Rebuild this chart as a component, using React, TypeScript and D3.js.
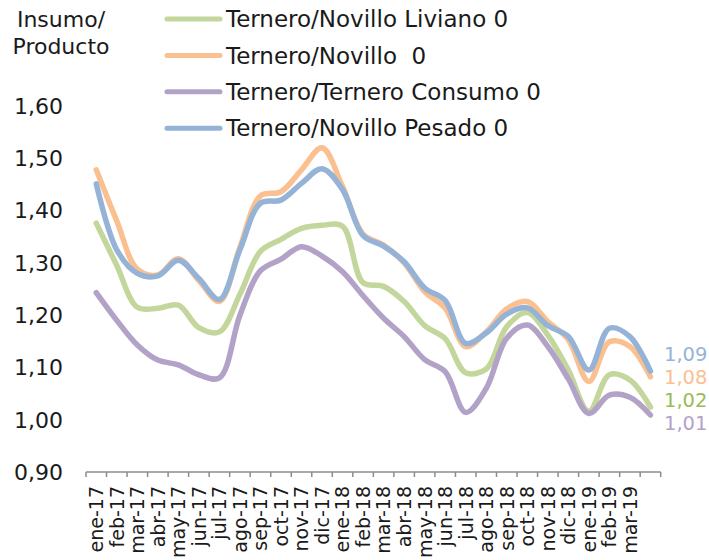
import React from "react";
import * as d3 from "d3";

// months (last category has no label in the original)
const categories = [
  "ene-17", "feb-17", "mar-17", "abr-17", "may-17", "jun-17", "jul-17", "ago-17",
  "sep-17", "oct-17", "nov-17", "dic-17", "ene-18", "feb-18", "mar-18", "abr-18",
  "may-18", "jun-18", "jul-18", "ago-18", "sep-18", "oct-18", "nov-18", "dic-18",
  "ene-19", "feb-19", "mar-19", "",
];

const liviano = [
  1.376, 1.295, 1.215, 1.213, 1.219, 1.176, 1.168, 1.24, 1.322, 1.345, 1.366, 1.372, 1.37, 1.262,
  1.255, 1.226, 1.18, 1.155, 1.09, 1.097, 1.178, 1.205, 1.162, 1.095, 1.016, 1.086, 1.076, 1.024,
];
const novillo = [
  1.478, 1.38, 1.288, 1.277, 1.308, 1.266, 1.226, 1.33, 1.428, 1.436, 1.478, 1.52, 1.446, 1.355,
  1.334, 1.3, 1.245, 1.213, 1.14, 1.168, 1.212, 1.226, 1.188, 1.153, 1.073, 1.149, 1.14, 1.082,
];
const consumo = [
  1.243, 1.19, 1.143, 1.114, 1.105, 1.086, 1.08, 1.2, 1.285, 1.307, 1.331, 1.313, 1.283, 1.237,
  1.194, 1.159, 1.115, 1.092, 1.014, 1.06, 1.156, 1.181, 1.14, 1.078, 1.012, 1.047, 1.043, 1.009,
];
const pesado = [
  1.451, 1.325, 1.28, 1.275, 1.305, 1.27, 1.23, 1.325, 1.414, 1.42, 1.452, 1.48, 1.44, 1.352,
  1.332, 1.302, 1.252, 1.228, 1.146, 1.166, 1.202, 1.214, 1.18, 1.159, 1.095, 1.175, 1.159, 1.093,
];

const seriesNames = [
  "Ternero/Novillo Liviano 0",
  "Ternero/Novillo  0",
  "Ternero/Ternero Consumo 0",
  "Ternero/Novillo Pesado 0",
];
const seriesValues = [liviano, novillo, consumo, pesado];
const lineColors = ["#c3d69b", "#fac090", "#b3a2c7", "#95b3d7"];
const labelColors = ["#9bbb59", "#fac090", "#b3a2c7", "#95b3d7"];

const yTicks = [0.9, 1.0, 1.1, 1.2, 1.3, 1.4, 1.5, 1.6];

const FONT = "'DejaVu Sans', sans-serif";

export default function App() {
  const x = d3.scaleBand<string>().domain(categories.map((c, i) => i + "")).range([86, 660.7]);
  const y = d3.scaleLinear().domain([0.9, 1.6]).range([472, 106]);
  const cx = (i: number) => (x(i + "") as number) + x.bandwidth() / 2;

  const line = d3
    .line<number>()
    .x((d, i) => cx(i))
    .y((d) => y(d))
    .curve(d3.curveCatmullRom.alpha(0.5));

  const fmt = (v: number) => d3.format(".2f")(v).replace(".", ",");

  // end labels: start from the last value, then spread so they don't overlap
  const last = categories.length - 1;
  const ends = seriesValues
    .map((s, k) => ({ k, v: s[last], y: y(s[last]) }))
    .sort((a, b) => a.y - b.y);
  const gap = 23;
  const mean = d3.mean(ends, (e) => e.y) as number;
  ends.forEach((e, j) => (e.y = mean - 4 + (j - (ends.length - 1) / 2) * gap));

  const bounds = d3.range(categories.length + 1).map((i) => 86 + i * x.step());

  return (
    <svg
      width={709}
      height={560}
      style={{ position: "absolute", left: 0, top: 0, background: "#fff" }}
      fontFamily={FONT}
    >
      {/* y axis title */}
      <text x={61} y={27} fontSize={22} textAnchor="middle" fill="#1a1a1a">Insumo/</text>
      <text x={61} y={54} fontSize={22} textAnchor="middle" fill="#1a1a1a">Producto</text>

      {/* y tick labels */}
      {yTicks.map((t) => (
        <text key={t} x={63} y={y(t)} dy="0.36em" fontSize={22} textAnchor="end" fill="#1a1a1a">
          {fmt(t)}
        </text>
      ))}

      {/* x axis */}
      <line x1={86} x2={660.7} y1={472} y2={472} stroke="#8c8c8c" strokeWidth={1.5} />
      {bounds.map((b, i) => (
        <line key={i} x1={b} x2={b} y1={472} y2={477} stroke="#8c8c8c" strokeWidth={1.5} />
      ))}
      {categories.map((c, i) => (
        <text
          key={i}
          transform={`translate(${cx(i)},486) rotate(-90)`}
          dy="0.36em"
          fontSize={19}
          textAnchor="end"
          fill="#1a1a1a"
        >
          {c}
        </text>
      ))}

      {/* lines */}
      {seriesValues.map((s, k) => (
        <path
          key={k}
          d={line(s) as string}
          fill="none"
          stroke={lineColors[k]}
          strokeWidth={5.5}
          strokeLinecap="round"
          strokeLinejoin="round"
        />
      ))}

      {/* end labels */}
      {ends.map((e) => (
        <text key={e.k} x={664} y={e.y} dy="0.36em" fontSize={19.5} fill={labelColors[e.k]}>
          {fmt(e.v)}
        </text>
      ))}

      {/* legend */}
      {seriesNames.map((n, k) => (
        <g key={k} transform={`translate(167,${19 + k * 36.4})`}>
          <line x1={0} x2={53} y1={0} y2={0} stroke={lineColors[k]} strokeWidth={5} strokeLinecap="round" />
          <text x={59} y={0} dy="0.36em" fontSize={23} fill="#1a1a1a" style={{ whiteSpace: "pre" }}>
            {n}
          </text>
        </g>
      ))}
    </svg>
  );
}
